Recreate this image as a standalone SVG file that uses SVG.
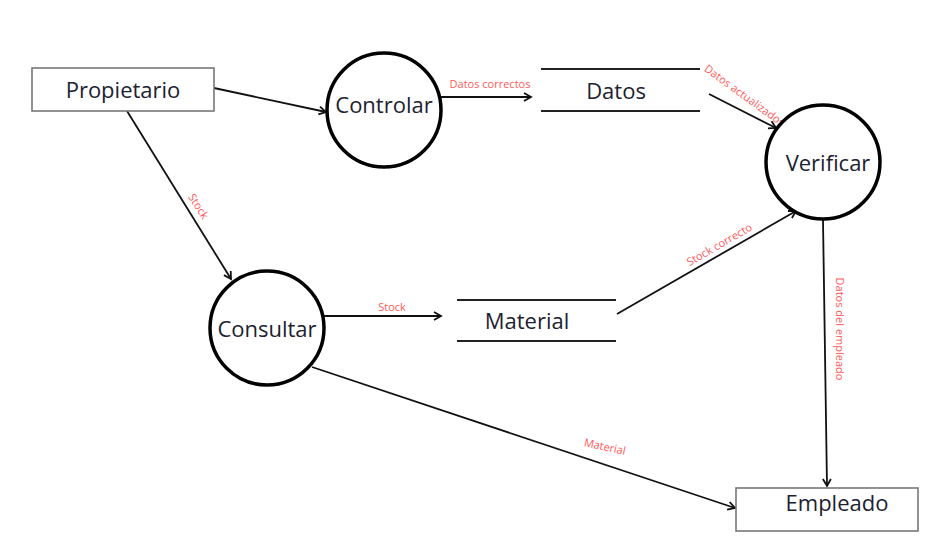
<svg xmlns="http://www.w3.org/2000/svg" width="934" height="547" viewBox="0 0 934 547">
<defs>
<marker id="arr" markerWidth="12" markerHeight="12" refX="9" refY="6" orient="auto" markerUnits="userSpaceOnUse">
<path d="M2,2 L9,6 L2,10" fill="none" stroke="#111" stroke-width="1.8"/>
</marker>
</defs>
<style>
.ent{fill:#fff;stroke:#777;stroke-width:1.6}
.proc{fill:#fff;stroke:#000;stroke-width:3.5}
.store{stroke:#222;stroke-width:2}
.main{font-family:"Open Sans","Liberation Sans",sans-serif;font-size:22px;fill:#1c2230;text-anchor:middle}
.lbl{font-family:"Open Sans","Liberation Sans",sans-serif;font-size:11px;fill:#ff5a5a;text-anchor:middle;dominant-baseline:central}
.flow{stroke:#111;stroke-width:1.8;fill:none;marker-end:url(#arr)}
</style>
<rect width="934" height="547" fill="#fff"/>
<g id="connectors">
<line class="flow" x1="214" y1="88" x2="326" y2="112"/>
<line class="flow" x1="127" y1="111" x2="231" y2="279"/>
<line class="flow" x1="441" y1="97" x2="531" y2="97"/>
<line class="flow" x1="709" y1="94" x2="776" y2="128"/>
<line class="flow" x1="324" y1="316" x2="441" y2="316"/>
<line class="flow" x1="617" y1="314" x2="796" y2="211"/>
<line class="flow" x1="823" y1="220" x2="827" y2="486"/>
<line class="flow" x1="312" y1="367" x2="735" y2="508"/>
<text class="lbl" x="490" y="83">Datos correctos</text>
<text class="lbl" x="745" y="95" font-size="9" transform="rotate(36 745 95)">Datos actualizados</text>
<text class="lbl" x="199" y="206" transform="rotate(58 199 206)">Stock</text>
<text class="lbl" x="392" y="306">Stock</text>
<text class="lbl" x="719" y="244" transform="rotate(-30 719 244)">Stock correcto</text>
<text class="lbl" x="840" y="329" transform="rotate(90 840 329)">Datos del empleado</text>
<text class="lbl" x="605" y="446" transform="rotate(12 605 446)">Material</text>
</g>
<g id="propietario">
<rect class="ent" x="32" y="68" width="182" height="43"/>
<text class="main" x="123" y="98">Propietario</text>
</g>
<g id="controlar">
<circle class="proc" cx="384" cy="110" r="57"/>
<text class="main" x="384" y="113">Controlar</text>
</g>
<g id="datos">
<line class="store" x1="541" y1="69" x2="700" y2="69"/>
<line class="store" x1="541" y1="111" x2="700" y2="111"/>
<text class="main" x="616" y="99">Datos</text>
</g>
<g id="verificar">
<circle class="proc" cx="823" cy="162" r="57"/>
<text class="main" x="828" y="171">Verificar</text>
</g>
<g id="consultar">
<circle class="proc" cx="267" cy="328" r="57"/>
<text class="main" x="267" y="337">Consultar</text>
</g>
<g id="material">
<line class="store" x1="457" y1="300" x2="616" y2="300"/>
<line class="store" x1="457" y1="341" x2="616" y2="341"/>
<text class="main" x="527" y="329">Material</text>
</g>
<g id="empleado">
<rect class="ent" x="736" y="488" width="182" height="43"/>
<text class="main" x="837" y="511">Empleado</text>
</g>
</svg>
